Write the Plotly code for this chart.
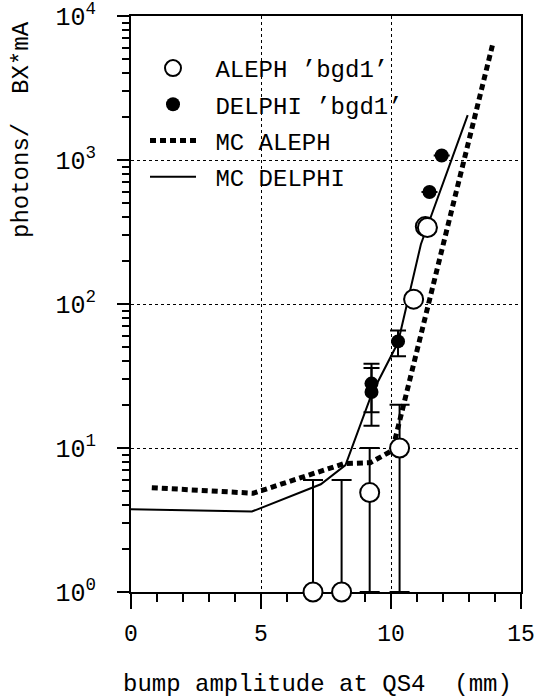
import plotly.graph_objects as go

# ---- data ----
aleph_x = [7.0, 8.1, 9.18, 10.33, 10.87, 11.32, 11.40]
aleph_y = [1, 1, 4.9, 10, 108, 345, 340]
aleph_err_plus = [5, 5, 5.1, 10, 0, 0, 0]
aleph_err_minus = [0, 0, 3.9, 9, 0, 0, 0]

delphi_x = [9.25, 9.25, 10.27, 11.48, 11.95]
delphi_y = [28, 24.5, 55, 600, 1075]
delphi_err_plus = [10.4, 11.5, 10.5, 0, 0]
delphi_err_minus = [10.3, 10.2, 11.6, 0, 0]

mc_aleph_x = [0.8, 4.7, 8.2, 9.2, 10.05, 13.9]
mc_aleph_y = [5.3, 4.85, 7.8, 7.9, 9.6, 6250]

mc_delphi_x = [0, 4.65, 7.3, 8.25, 9.27, 10.27, 11.15, 12.95]
mc_delphi_y = [3.75, 3.62, 5.6, 7.6, 24, 54, 260, 2050]

x_tick_vals = [0, 5, 10, 15]
y_tick_vals = [1, 10, 100, 1000, 10000]
y_tick_text = ["10<sup>0</sup>", "10<sup>1</sup>", "10<sup>2</sup>", "10<sup>3</sup>", "10<sup>4</sup>"]
y_minor_vals = [m * 10 ** d for d in range(4) for m in range(2, 10)]

names = ["\u00a0ALEPH \u2019bgd1\u2019", "\u00a0DELPHI \u2019bgd1\u2019", "\u00a0MC ALEPH", "\u00a0MC DELPHI"]

FONT = "Liberation Mono, Courier New, monospace"
PW = 535 - 131 - 14  # plot width in px

fig = go.Figure()

fig.add_trace(go.Scatter(
    x=mc_aleph_x, y=mc_aleph_y, mode="lines", name=names[2],
    line=dict(color="black", width=5, dash="6px,4px"),
    legendgroup="c", legendrank=3,
))
fig.add_trace(go.Scatter(
    x=mc_delphi_x, y=mc_delphi_y, mode="lines", name=names[3],
    line=dict(color="black", width=2),
    legendgroup="d", legendrank=4,
))
fig.add_trace(go.Scatter(
    x=aleph_x, y=aleph_y, mode="markers", name=names[0],
    marker=dict(symbol="circle", size=19, color="white", line=dict(color="black", width=2)),
    error_y=dict(type="data", symmetric=False, array=aleph_err_plus, arrayminus=aleph_err_minus,
                 color="black", thickness=2, width=10),
    cliponaxis=False, legendgroup="a", legendrank=1,
))
fig.add_trace(go.Scatter(
    x=delphi_x, y=delphi_y, mode="markers", name=names[1],
    marker=dict(symbol="circle", size=14, color="black"),
    error_y=dict(type="data", symmetric=False, array=delphi_err_plus, arrayminus=delphi_err_minus,
                 color="black", thickness=2, width=8),
    cliponaxis=False, legendgroup="b", legendrank=2,
))

fig.update_layout(
    width=535, height=700,
    margin=dict(l=131, r=14, t=16, b=108),
    paper_bgcolor="white", plot_bgcolor="white",
    font=dict(family=FONT, size=24, color="black"),
    showlegend=True,
    legend=dict(
        x=(145 - 131) / PW, y=(592 - 46) / 576, xanchor="left", yanchor="top",
        bgcolor="rgba(0,0,0,0)", borderwidth=0,
        font=dict(family=FONT, size=24, color="black"),
        itemwidth=46, tracegroupgap=2, traceorder="grouped",
    ),
    xaxis=dict(
        range=[0, 15], tickvals=x_tick_vals, automargin=False, ticklabeloverflow="allow",
        ticks="outside", ticklen=15, tickwidth=2, tickcolor="black",
        showline=True, linewidth=2, linecolor="black", mirror=True,
        showgrid=True, gridcolor="black", gridwidth=1, griddash="dot",
        zeroline=False, layer="below traces",
        tickfont=dict(family=FONT, size=23), ticklabelstandoff=4,
        minor=dict(dtick=1, ticks="outside", ticklen=8, tickwidth=2, tickcolor="black", showgrid=False),
    ),
    yaxis=dict(
        type="log", range=[0, 4], tickvals=y_tick_vals, ticktext=y_tick_text,
        automargin=False, ticklabeloverflow="allow",
        ticks="outside", ticklen=12, tickwidth=2, tickcolor="black",
        showline=True, linewidth=2, linecolor="black", mirror=True,
        showgrid=True, gridcolor="black", gridwidth=1, griddash="dot",
        zeroline=False, layer="below traces",
        tickfont=dict(family=FONT, size=25), ticklabelstandoff=16,
        minor=dict(tickmode="array", tickvals=y_minor_vals, ticks="outside", ticklen=7,
                   tickwidth=2, tickcolor="black", showgrid=False),
    ),
    annotations=[
        dict(text="bump amplitude at QS4  (mm)", xref="paper", yref="paper",
             x=(317 - 131) / PW, y=(592 - 684) / 576, xanchor="center", yanchor="middle",
             showarrow=False, font=dict(family=FONT, size=24)),
        dict(text="photons/  BX*mA", xref="paper", yref="paper",
             x=(22 - 131) / PW, y=(592 - 130) / 576, xanchor="center", yanchor="middle",
             textangle=-90, showarrow=False, font=dict(family=FONT, size=24)),
    ],
)

fig.write_html("out.html", config={"displayModeBar": False},
               post_script="document.body.style.margin='0';document.body.style.padding='0';")
